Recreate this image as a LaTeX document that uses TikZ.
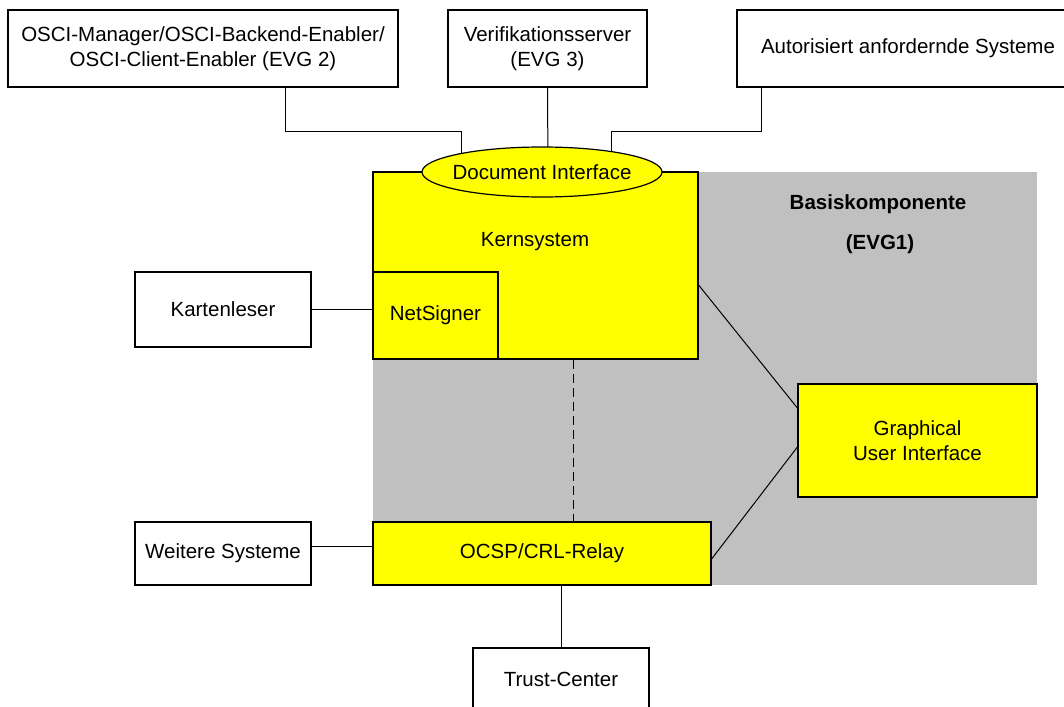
\documentclass[tikz,border=0pt]{standalone}
\usepackage{fontspec}
\setmainfont{Liberation Sans}
\usetikzlibrary{calc,shapes.geometric}
\definecolor{panelgray}{HTML}{C0C0C0}
\definecolor{compyellow}{HTML}{FFFF00}
\begin{document}
\begin{tikzpicture}[x=1pt,y=-1pt,
  every node/.style={font=\fontsize{20.5}{25}\selectfont, align=center, inner sep=0pt},
  extbox/.style={draw, line width=1.2pt, fill=white, rectangle},
  compbox/.style={draw, line width=1.2pt, fill=compyellow, rectangle},
  link/.style={line width=1pt},
  dashlink/.style={line width=1pt, dash pattern=on 9pt off 5pt},
  boldlabel/.style={font=\fontsize{20.5}{25}\selectfont\bfseries}
]
\useasboundingbox (0,0) rectangle (1064,706);

% grey area of the base component
\fill[panelgray] (373,172) rectangle (1037,585);

% external systems at the top
\node[extbox, minimum width=390pt, minimum height=77pt] (osci) at (203,48.5)
  {OSCI-Manager/OSCI-Backend-Enabler/\\OSCI-Client-Enabler (EVG 2)};
\node[extbox, minimum width=199pt, minimum height=77pt] (verif) at (547.5,48.5)
  {Verifikationsserver\\(EVG 3)};
\node[extbox, minimum width=342pt, minimum height=77pt] (autor) at (908,48.5)
  {Autorisiert anfordernde Systeme};

% core system with document interface and NetSigner
\node[compbox, minimum width=325pt, minimum height=187pt] (kern) at (535.5,265.5) {};
\node (kernlabel) at (535,242) {Kernsystem};
\node[compbox, minimum width=125pt, minimum height=87pt] (netsigner) at (435.5,315.5) {NetSigner};

% connectors from the top systems to the document interface
\coordinate (diA) at (461,172);
\coordinate (diB) at (548,172);
\coordinate (diC) at (611,172);
\draw[link] ($(osci.south)+(82,0)$) |- (461,131) -- (diA);
\draw[link] (verif.south) -- (diB);
\draw[link] ($(autor.south)+(-147,0)$) |- (611,131) -- (diC);

\node[ellipse, draw, line width=1.2pt, fill=compyellow, minimum width=240pt, minimum height=50pt] (di) at (542,172) {};
\node (dilabel) at (di.center) {Document Interface};

% graphical user interface and relay
\node[compbox, minimum width=239pt, minimum height=113pt] (gui) at (917.5,440.5)
  {Graphical\\User Interface};
\node[compbox, minimum width=338pt, minimum height=63pt] (ocsp) at (542,553.5) {OCSP/CRL-Relay};

% further external systems
\node[extbox, minimum width=176pt, minimum height=75pt] (karten) at (223,309.5) {Kartenleser};
\node[extbox, minimum width=176pt, minimum height=63pt] (weitere) at (223,553.5) {Weitere Systeme};
\node[extbox, minimum width=176pt, minimum height=62pt] (trust) at (561,679) {Trust-Center};

% labels of the base component
\node[boldlabel] (basis) at (878,204) {Basiskomponente};
\node[boldlabel] (evg1) at (880,244) {(EVG1)};

% connectors
\draw[link] (karten.east) -- (karten.east -| netsigner.west);
\draw[link] ($(weitere.east)+(0,-7)$) coordinate (wA) -- (wA -| ocsp.west);
\draw[link] ($(kern.east)+(0,19.5)$) -- ($(gui.west)+(0,-32.5)$);
\draw[link] ($(ocsp.east)+(0,5.5)$) -- ($(gui.west)+(0,6.5)$);
\coordinate (kdash) at ($(kern.south)+(37.5,0)$);
\draw[dashlink] (kdash) -- (kdash |- ocsp.north);
\coordinate (tr) at ($(ocsp.south)+(19,0)$);
\draw[link] (tr) -- (tr |- trust.north);
\end{tikzpicture}
\end{document}
